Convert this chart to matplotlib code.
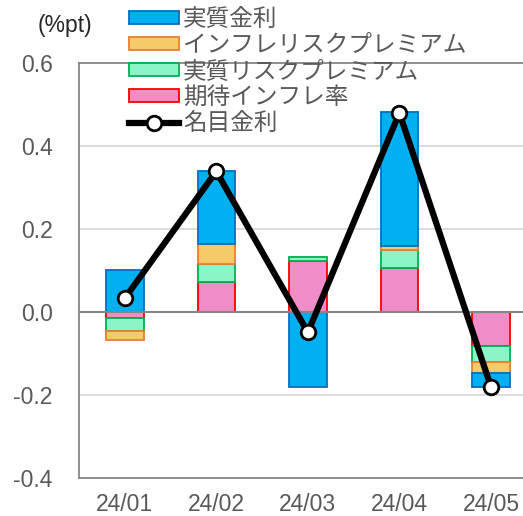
import matplotlib
matplotlib.use("Agg")
import matplotlib.pyplot as plt
import numpy as np

plt.rcParams["font.family"] = ["Liberation Sans", "Noto Sans CJK JP", "DejaVu Sans"]

MONTHS = ["24/01", "24/02", "24/03", "24/04", "24/05"]
# components (%pt), listed in stacking order from the zero line outward
EXPECTED_INFL = [-0.016, 0.071, 0.122, 0.106, -0.083]   # 期待インフレ率
REAL_RISK = [-0.031, 0.043, 0.009, 0.042, -0.038]       # 実質リスクプレミアム
INFL_RISK = [-0.022, 0.049, 0.000, 0.011, -0.027]       # インフレリスクプレミアム
REAL_RATE = [0.100, 0.175, -0.182, 0.321, -0.034]       # 実質金利
NOMINAL = [0.032, 0.338, -0.050, 0.479, -0.181]         # 名目金利

SERIES = [
    ("期待インフレ率", EXPECTED_INFL, "#F08CC8", "#FF0000"),
    ("実質リスクプレミアム", REAL_RISK, "#8CF5C8", "#00B050"),
    ("インフレリスクプレミアム", INFL_RISK, "#F5CB6A", "#ED7D31"),
    ("実質金利", REAL_RATE, "#00B0F0", "#0070C0"),
]

TXT = "#595959"

fig = plt.figure(figsize=(5.23, 5.16), dpi=100)
ax = fig.add_axes([0.151, 0.0746, 0.849, 0.8039])

x = np.arange(len(MONTHS))
pos = np.zeros(len(MONTHS))
neg = np.zeros(len(MONTHS))
handles = {}
for name, vals, fc, ec in SERIES:
    vals = np.asarray(vals)
    base = np.where(vals >= 0, pos, neg)
    bars = ax.bar(x, vals, 0.41, bottom=base, color=fc, edgecolor=ec,
                  linewidth=1.3, zorder=3, label=name)
    for p in bars.patches:
        if p.get_height() == 0:
            p.set_visible(False)
    handles[name] = bars
    pos = pos + np.clip(vals, 0, None)
    neg = neg + np.clip(vals, None, 0)

line, = ax.plot(x, NOMINAL, color="black", lw=4.5, marker="o", ms=10.5,
                mfc="white", mec="black", mew=2, zorder=5, label="名目金利")

ax.set_xlim(-0.5, 4.35)
ax.set_ylim(-0.4, 0.6)
ax.set_yticks(np.arange(-0.4, 0.61, 0.2))
ax.set_yticklabels([f"{v:.1f}" for v in np.arange(-0.4, 0.61, 0.2)])
for v in (-0.2, 0.2, 0.4):
    ax.axhline(v, color="#D9D9D9", lw=1.3, zorder=1)
ax.axhline(0, color="#868686", lw=1.5, zorder=4)
ax.set_xticks(x)
ax.set_xticklabels(MONTHS)
ax.tick_params(length=0, labelsize=16.5, colors=TXT, pad=11)
ax.tick_params(axis="y", pad=19)
for side in ("left", "bottom", "top"):
    ax.spines[side].set_color("#868686")
    ax.spines[side].set_linewidth(1.3)
ax.spines["right"].set_visible(False)

fig.text(0.071, 0.951, "(%pt)", fontsize=16.5, color="#262626", va="center")

order = ["実質金利", "インフレリスクプレミアム", "実質リスクプレミアム", "期待インフレ率"]
leg = fig.legend([handles[n] for n in order] + [line], order + ["名目金利"],
                 loc="upper left", bbox_to_anchor=(0.228, 1.003), frameon=False,
                 handlelength=2.15, handleheight=0.5,
                 handletextpad=0.15, labelspacing=0.13, borderaxespad=0,
                 prop={"family": ["Noto Sans CJK JP", "DejaVu Sans"], "size": 17})
for t in leg.get_texts():
    t.set_color(TXT)

fig.savefig("out.png", dpi=100)
